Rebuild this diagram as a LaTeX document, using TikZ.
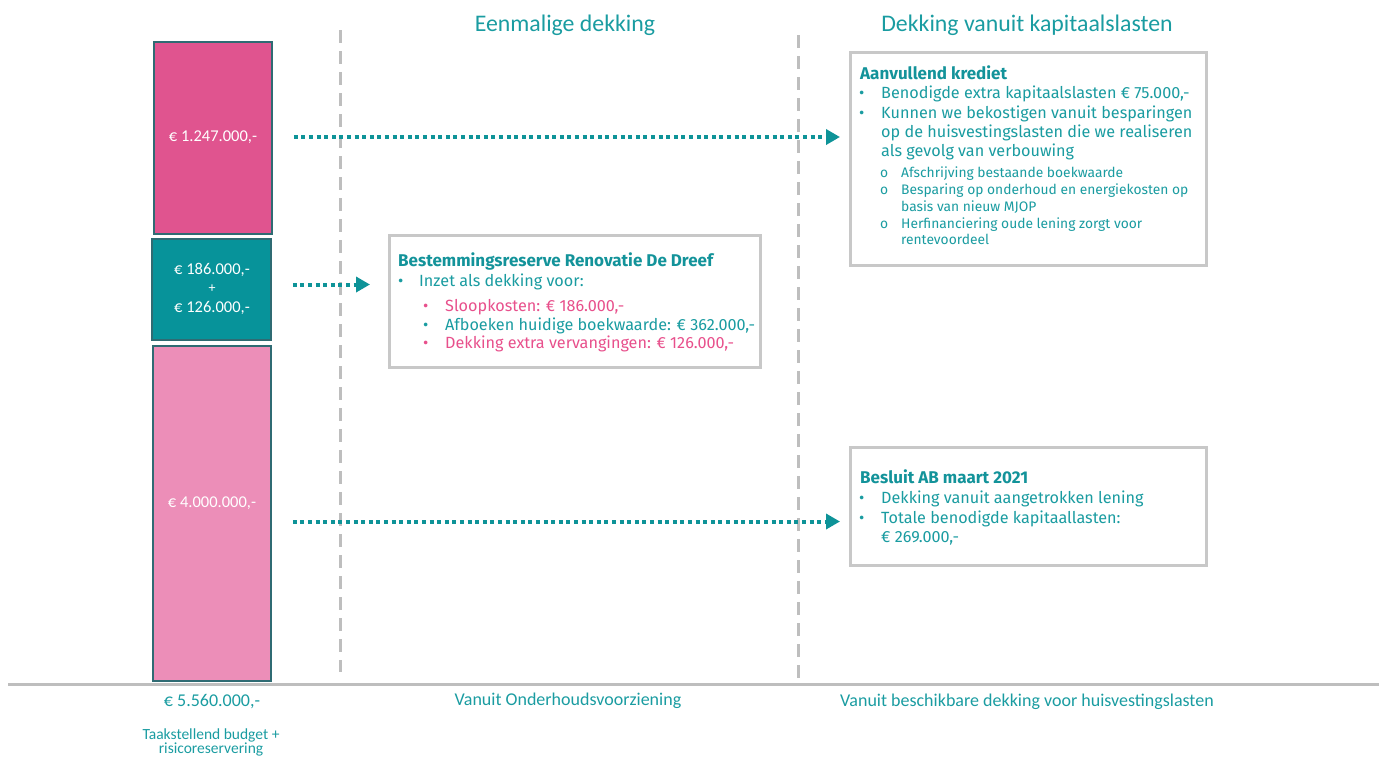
\documentclass[tikz,border=0pt]{standalone}
\usepackage{fontspec}
\setmainfont{Fira Sans}
\newfontfamily\headfont{Carlito}
\usetikzlibrary{arrows.meta,calc}
\definecolor{tealtx}{HTML}{1A9CA1}
\definecolor{tealtitle}{HTML}{13939A}
\definecolor{pinktx}{HTML}{E8508C}
\definecolor{barA}{HTML}{E0548F}
\definecolor{barB}{HTML}{07939A}
\definecolor{barC}{HTML}{EC8EB8}
\definecolor{barline}{HTML}{2F6B73}
\definecolor{grayline}{HTML}{BEBEBE}
\definecolor{boxline}{HTML}{C8C8C8}
\definecolor{arrowc}{HTML}{0E9398}
\begin{document}
\begin{tikzpicture}[x=1pt,y=-1pt,
  bar/.style={draw=barline,line width=1.5pt,inner sep=0pt},
  infobox/.style={draw=boxline,line width=3pt,fill=white,inner sep=0pt,anchor=north west},
  barlab/.style={text=white,font=\headfont\fontsize{16.5}{16.5}\selectfont,inner sep=0pt},
  head/.style={text=tealtx,font=\headfont\fontsize{23.8}{23.8}\selectfont,anchor=base,inner sep=0pt},
  foot/.style={text=tealtx,font=\headfont\fontsize{18}{18}\selectfont,inner sep=0pt},
  ttl/.style={text=tealtitle,font=\bfseries\fontsize{17}{17}\selectfont,anchor=base west,inner sep=0pt},
  tx/.style={text=tealtx,font=\fontsize{16.2}{16.2}\selectfont,anchor=base west,inner sep=0pt},
  stx/.style={text=tealtx,font=\fontsize{13.8}{13.8}\selectfont,anchor=base west,inner sep=0pt},
  vdash/.style={draw=grayline,line width=3pt,dash pattern=on 13pt off 8pt},
  flow/.style={draw=arrowc,line width=4pt,dash pattern=on 4pt off 3.6pt,-{Triangle[length=14pt,width=15pt]}}
]
\useasboundingbox (0,0) rectangle (1379,756);

% headings
\node[head] (h1) at (565,31) {Eenmalige dekking};
\node[head] (h2) at (1027,31) {Dekking vanuit kapitaalslasten};

% dashed separators
\coordinate (d1t) at (340,30); \coordinate (d1b) at (340,672);
\coordinate (d2t) at (798,35); \coordinate (d2b) at (798,678);
\draw[vdash] (d1t) -- (d1b);
\draw[vdash] (d2t) -- (d2b);

% baseline
\coordinate (bl1) at (8,684); \coordinate (bl2) at (1379,684);
\draw[draw=grayline,line width=3pt] (bl1) -- (bl2);

% bars
\node[bar,fill=barA,minimum width=118,minimum height=192] (bar1) at (213,138) {};
\node[bar,fill=barB,minimum width=119,minimum height=101] (bar2) at (211.5,289.5) {};
\node[bar,fill=barC,minimum width=118,minimum height=335] (bar3) at (212,513.5) {};

\node[barlab] (l1) at (213,137) {€ 1.247.000,-};
\node[barlab] (l2a) at (212,270) {€ 186.000,-};
\node[barlab,font=\headfont\fontsize{14}{14}\selectfont] (l2b) at (212,289) {+};
\node[barlab] (l2c) at (212,308) {€ 126.000,-};
\node[barlab] (l3) at (212,503) {€ 4.000.000,-};

% boxes
\node[infobox,minimum width=356,minimum height=213] (boxA) at (849,51) {};
\node[infobox,minimum width=371,minimum height=132] (boxB) at (388,234) {};
\node[infobox,minimum width=356,minimum height=118] (boxC) at (849,446) {};

% box A text
\node[ttl] (a0) at (860,79) {Aanvullend krediet};
\node[tx] (a1b) at (859,98) {•};
\node[tx] (a1) at (881,98) {Benodigde extra kapitaalslasten € 75.000,-};
\node[tx] (a2b) at (859,118) {•};
\node[tx] (a2) at (881,118) {Kunnen we bekostigen vanuit besparingen};
\node[tx] (a3) at (881,137) {op de huisvestingslasten die we realiseren};
\node[tx] (a4) at (881,156) {als gevolg van verbouwing};
\node[stx] (s1b) at (880,177) {o};
\node[stx] (s1) at (901,177) {Afschrijving bestaande boekwaarde};
\node[stx] (s2b) at (880,194) {o};
\node[stx] (s2) at (901,194) {Besparing op onderhoud en energiekosten op};
\node[stx] (s3) at (901,211) {basis van nieuw MJOP};
\node[stx] (s4b) at (880,228) {o};
\node[stx] (s4) at (901,228) {Herfinanciering oude lening zorgt voor};
\node[stx] (s5) at (901,244) {rentevoordeel};

% box B text
\node[ttl] (b0) at (398,266) {Bestemmingsreserve Renovatie De Dreef};
\node[tx] (b1b) at (398,286) {•};
\node[tx] (b1) at (419,286) {Inzet als dekking voor:};
\node[tx,text=pinktx] (b2b) at (423,311) {•};
\node[tx,text=pinktx] (b2) at (445,311) {Sloopkosten: € 186.000,-};
\node[tx] (b3b) at (423,330) {•};
\node[tx] (b3) at (445,330) {Afboeken huidige boekwaarde: € 362.000,-};
\node[tx,text=pinktx] (b4b) at (423,348) {•};
\node[tx,text=pinktx] (b4) at (445,348) {Dekking extra vervangingen: € 126.000,-};

% box C text
\node[ttl] (c0) at (860,483) {Besluit AB maart 2021};
\node[tx] (c1b) at (859,503) {•};
\node[tx] (c1) at (881,503) {Dekking vanuit aangetrokken lening};
\node[tx] (c2b) at (859,523) {•};
\node[tx] (c2) at (881,523) {Totale benodigde kapitaallasten:};
\node[tx] (c3) at (881,542) {€ 269.000,-};

% flows
\draw[flow,shorten <=21pt,shorten >=9pt] (l1.center -| bar1.east) -- (l1.center -| boxA.west);
\draw[flow,shorten <=21pt,shorten >=18pt] ([yshift=5pt]bar2.east) -- ([yshift=5pt]bar2.east -| boxB.west);
\draw[flow,shorten <=21pt,shorten >=9pt] ([yshift=-8pt]bar3.east) -- ([yshift=-8pt]bar3.east -| boxC.west);

% footer labels
\node[foot] (f1) at (212,702) {€ 5.560.000,-};
\node[foot,font=\headfont\fontsize{15.5}{15.5}\selectfont] (f1a) at (211,735) {Taakstellend budget +};
\node[foot,font=\headfont\fontsize{15.5}{15.5}\selectfont] (f1b) at (211,749) {risicoreservering};
\node[foot] (f2) at (568,701) {Vanuit Onderhoudsvoorziening};
\node[foot] (f3) at (1027,702) {Vanuit beschikbare dekking voor huisvestingslasten};
\end{tikzpicture}
\end{document}
